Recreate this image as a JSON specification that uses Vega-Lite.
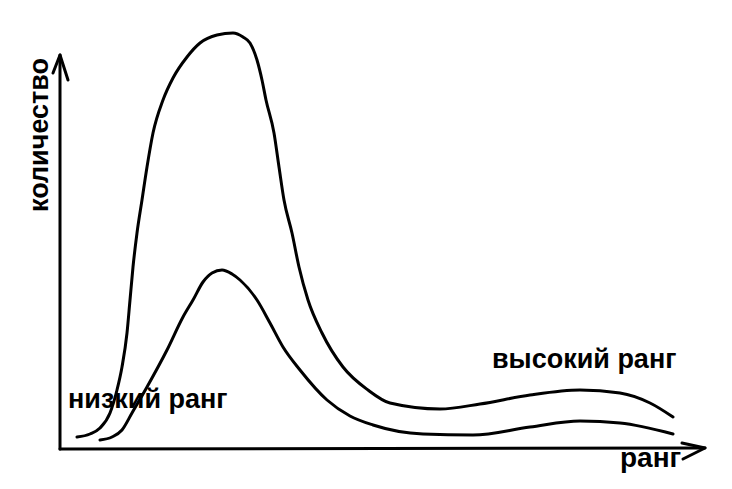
{
  "$schema": "https://vega.github.io/schema/vega-lite/v6.json",
  "width": 732,
  "height": 489,
  "autosize": {"type": "fit", "contains": "padding"},
  "padding": 0,
  "background": "white",
  "config": {"view": {"stroke": null}},
  "datasets": {
    "curves": [
      {"g": "outer", "i": 1, "x": 17, "y": 12},
      {"g": "outer", "i": 2, "x": 30, "y": 15},
      {"g": "outer", "i": 3, "x": 40, "y": 21},
      {"g": "outer", "i": 4, "x": 50, "y": 36},
      {"g": "outer", "i": 5, "x": 57, "y": 59},
      {"g": "outer", "i": 6, "x": 62, "y": 82},
      {"g": "outer", "i": 7, "x": 67, "y": 116},
      {"g": "outer", "i": 8, "x": 70, "y": 149},
      {"g": "outer", "i": 9, "x": 73, "y": 182},
      {"g": "outer", "i": 10, "x": 77, "y": 216},
      {"g": "outer", "i": 11, "x": 82, "y": 249},
      {"g": "outer", "i": 12, "x": 87, "y": 282},
      {"g": "outer", "i": 13, "x": 93, "y": 316},
      {"g": "outer", "i": 14, "x": 103, "y": 349},
      {"g": "outer", "i": 15, "x": 113, "y": 371},
      {"g": "outer", "i": 16, "x": 127, "y": 392},
      {"g": "outer", "i": 17, "x": 140, "y": 406},
      {"g": "outer", "i": 18, "x": 157, "y": 414},
      {"g": "outer", "i": 19, "x": 173, "y": 416},
      {"g": "outer", "i": 20, "x": 183, "y": 412},
      {"g": "outer", "i": 21, "x": 190, "y": 406},
      {"g": "outer", "i": 22, "x": 197, "y": 389},
      {"g": "outer", "i": 23, "x": 202, "y": 369},
      {"g": "outer", "i": 24, "x": 206, "y": 349},
      {"g": "outer", "i": 25, "x": 214, "y": 316},
      {"g": "outer", "i": 26, "x": 219, "y": 282},
      {"g": "outer", "i": 27, "x": 224, "y": 249},
      {"g": "outer", "i": 28, "x": 232, "y": 216},
      {"g": "outer", "i": 29, "x": 239, "y": 182},
      {"g": "outer", "i": 30, "x": 248, "y": 149},
      {"g": "outer", "i": 31, "x": 262, "y": 116},
      {"g": "outer", "i": 32, "x": 283, "y": 82},
      {"g": "outer", "i": 33, "x": 308, "y": 59},
      {"g": "outer", "i": 34, "x": 330, "y": 46},
      {"g": "outer", "i": 35, "x": 380, "y": 40},
      {"g": "outer", "i": 36, "x": 420, "y": 45},
      {"g": "outer", "i": 37, "x": 470, "y": 54},
      {"g": "outer", "i": 38, "x": 520, "y": 59},
      {"g": "outer", "i": 39, "x": 560, "y": 56},
      {"g": "outer", "i": 40, "x": 590, "y": 46},
      {"g": "outer", "i": 41, "x": 613, "y": 32},
      {"g": "inner", "i": 1, "x": 40, "y": 9},
      {"g": "inner", "i": 2, "x": 52, "y": 12},
      {"g": "inner", "i": 3, "x": 62, "y": 19},
      {"g": "inner", "i": 4, "x": 72, "y": 36},
      {"g": "inner", "i": 5, "x": 87, "y": 62},
      {"g": "inner", "i": 6, "x": 107, "y": 99},
      {"g": "inner", "i": 7, "x": 123, "y": 132},
      {"g": "inner", "i": 8, "x": 133, "y": 149},
      {"g": "inner", "i": 9, "x": 143, "y": 167},
      {"g": "inner", "i": 10, "x": 152, "y": 176},
      {"g": "inner", "i": 11, "x": 162, "y": 179},
      {"g": "inner", "i": 12, "x": 172, "y": 175},
      {"g": "inner", "i": 13, "x": 180, "y": 169},
      {"g": "inner", "i": 14, "x": 197, "y": 149},
      {"g": "inner", "i": 15, "x": 210, "y": 126},
      {"g": "inner", "i": 16, "x": 223, "y": 102},
      {"g": "inner", "i": 17, "x": 240, "y": 79},
      {"g": "inner", "i": 18, "x": 267, "y": 49},
      {"g": "inner", "i": 19, "x": 290, "y": 33},
      {"g": "inner", "i": 20, "x": 313, "y": 24},
      {"g": "inner", "i": 21, "x": 363, "y": 15},
      {"g": "inner", "i": 22, "x": 413, "y": 14},
      {"g": "inner", "i": 23, "x": 470, "y": 22},
      {"g": "inner", "i": 24, "x": 520, "y": 28},
      {"g": "inner", "i": 25, "x": 560, "y": 26},
      {"g": "inner", "i": 26, "x": 613, "y": 15}
    ],
    "axes": [
      {"g": "yaxis", "i": 1, "x": 0, "y": 0},
      {"g": "yaxis", "i": 2, "x": 0, "y": 394},
      {"g": "yarrow", "i": 1, "x": -7, "y": 376},
      {"g": "yarrow", "i": 2, "x": 0, "y": 394},
      {"g": "yarrow", "i": 3, "x": 8, "y": 369},
      {"g": "xaxis", "i": 1, "x": 0, "y": 0},
      {"g": "xaxis", "i": 2, "x": 645, "y": 1},
      {"g": "xarrow", "i": 1, "x": 622, "y": 6},
      {"g": "xarrow", "i": 2, "x": 645, "y": 1},
      {"g": "xarrow", "i": 3, "x": 623, "y": -10}
    ],
    "labels": [
      {"t": "низкий ранг", "x": 8, "y": 41, "s": 27},
      {"t": "высокий ранг", "x": 432, "y": 81, "s": 27},
      {"t": "ранг", "x": 560, "y": -18, "s": 28}
    ],
    "ylabel": [
      {"t": "количество", "x": -12, "y": 314}
    ]
  },
  "layer": [
    {
      "data": {"name": "axes"},
      "mark": {"type": "line", "color": "black", "strokeWidth": 3, "strokeCap": "round", "strokeJoin": "round"},
      "encoding": {
        "x": {"field": "x", "type": "quantitative", "scale": {"domain": [-60, 672]}, "axis": null},
        "y": {"field": "y", "type": "quantitative", "scale": {"domain": [-40, 449]}, "axis": null},
        "detail": {"field": "g"},
        "order": {"field": "i"}
      }
    },
    {
      "data": {"name": "curves"},
      "mark": {"type": "line", "color": "black", "strokeWidth": 3, "interpolate": "monotone", "strokeCap": "round"},
      "encoding": {
        "x": {"field": "x", "type": "quantitative", "scale": {"domain": [-60, 672]}, "axis": null},
        "y": {"field": "y", "type": "quantitative", "scale": {"domain": [-40, 449]}, "axis": null},
        "detail": {"field": "g"},
        "order": {"field": "i"}
      }
    },
    {
      "data": {"name": "labels"},
      "mark": {"type": "text", "font": "Liberation Sans", "fontWeight": "bold", "align": "left", "baseline": "alphabetic", "color": "black"},
      "encoding": {
        "x": {"field": "x", "type": "quantitative", "scale": {"domain": [-60, 672]}, "axis": null},
        "y": {"field": "y", "type": "quantitative", "scale": {"domain": [-40, 449]}, "axis": null},
        "text": {"field": "t"},
        "size": {"field": "s", "type": "quantitative", "scale": null}
      }
    },
    {
      "data": {"name": "ylabel"},
      "mark": {"type": "text", "font": "Liberation Sans", "fontWeight": "bold", "fontSize": 27, "align": "center", "baseline": "alphabetic", "angle": 270, "color": "black"},
      "encoding": {
        "x": {"field": "x", "type": "quantitative", "scale": {"domain": [-60, 672]}, "axis": null},
        "y": {"field": "y", "type": "quantitative", "scale": {"domain": [-40, 449]}, "axis": null},
        "text": {"field": "t"}
      }
    }
  ]
}
